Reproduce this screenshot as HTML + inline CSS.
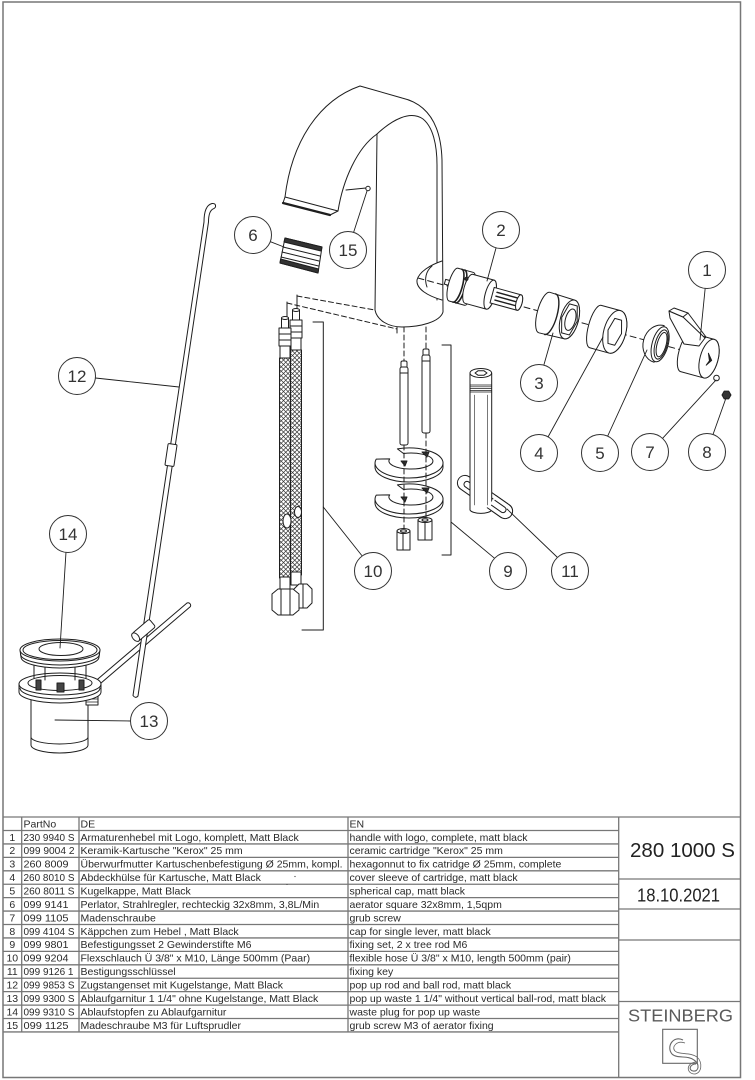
<!DOCTYPE html>
<html><head><meta charset="utf-8">
<style>
html,body{margin:0;padding:0;background:#fff;}
svg{display:block;}
text{font-family:"Liberation Sans",Arial,sans-serif;}
</style></head><body>
<svg width="755" height="1080" viewBox="0 0 755 1080" xmlns="http://www.w3.org/2000/svg">
<defs>
<pattern id="braid" width="4.5" height="4.5" patternUnits="userSpaceOnUse">
<rect width="4.5" height="4.5" fill="#fff"/>
<path d="M0,0 L4.5,4.5 M4.5,0 L0,4.5" stroke="#333" stroke-width="0.7"/>
</pattern>
</defs>
<rect width="755" height="1080" fill="#fff"/>

<!-- outer frame -->
<rect x="3" y="2" width="737.5" height="1075.5" fill="none" stroke="#777" stroke-width="1.5"/>

<!-- ================= DRAWING ================= -->
<g fill="none" stroke="#1e1e1e" stroke-width="1" stroke-linejoin="round" stroke-linecap="round">

<path d="M297,296 L397,314" stroke-dasharray="5,3"/>
<path d="M287,303 L397,329" stroke-dasharray="5,3"/>
<path d="M297,295 L297,311 M287,302 L287,317 M397,314 L397,333"/>
<path d="M404,327 L404,365 M426,327 L426,353" stroke-dasharray="5,3"/>

<!-- ===== Faucet ===== -->
<path d="M283,203 L285,197 C292,140 320,100 360,86 L402,98 C428,104 441,125 442,160 L443,312 C440,322 420,327 402,327 C388,327 377,320 375,310 L377,134 C357,148 343,180 338,211 L330,215 Z" fill="#fff"/>
<path d="M377,134 C392,120 410,110 423,119 C433,127 437,145 437,165 L437,300"/>
<path d="M285,197 L338,211"/>
<path d="M283,203 L330,215" stroke-width="2.2"/>
<path d="M442,261 C430,265 419,272 417,280 C416,289 428,296 442,300" fill="#fff"/>
<path d="M432,266 C426,271 424,279 427,287"/>
<path d="M346,190 L366,188"/>
<circle cx="368" cy="188.5" r="2.2" fill="#fff"/>

<!-- ===== Aerator 6 ===== -->
<polygon points="285,238 322,247 318,273 280,263" fill="#fff"/>
<path d="M285,238 L322,247 L321,251 L284,242 Z" fill="#333"/>
<path d="M283,247 L320,256 M282,252 L319,261 M281,257 L318.6,266"/>
<path d="M280,263 L318,273 L318.6,269 L280.6,259 Z" fill="#333"/>

<!-- ===== axis group ===== -->
<g transform="translate(418,278) rotate(15.3)">
  <path d="M0,0 L290,0" stroke-dasharray="6,4"/>
  <rect x="27" y="-6" width="10" height="5" fill="#fff"/>
  <path d="M36,-20 L52,-20 A5,17 0 0 1 52,14 L36,14 A5,17 0 0 1 36,-20 Z" fill="#fff"/>
  <path d="M40,-20 A5,17 0 0 1 40,14 M43,-20 A5,17 0 0 1 43,14" stroke-width="1.6"/>
  <path d="M52,-18 L74,-18 A5,15 0 0 1 74,12 L52,12 A5,15 0 0 1 52,-18 Z" fill="#fff"/>
  <ellipse cx="74" cy="-3" rx="5" ry="15" fill="#fff"/>
  <circle cx="47" cy="-12" r="1.5" fill="#333"/>
  <path d="M76,-11 L104,-11 A3,8 0 0 1 104,5 L76,5 Z" fill="#fff"/>
  <path d="M80,-7 L102,-7 M80,-3 L102,-3 M80,1 L102,1" stroke-width="1.4"/>
  <ellipse cx="104" cy="-3" rx="3" ry="8" fill="#fff"/>
  <path d="M131,-21 L157,-20 A9,20 0 0 1 157,20 L131,21 A7,21 0 0 1 131,-21 Z" fill="#fff"/>
  <path d="M137,-21 A7,21 0 0 1 137,21" stroke-width="1.4"/>
  <ellipse cx="157" cy="0" rx="9" ry="20" fill="#fff"/>
  <polygon points="165,0 161,15 153,15 149,0 153,-15 161,-15" fill="#fff"/>
  <ellipse cx="158" cy="0" rx="5" ry="11" fill="#fff"/>
  <path d="M184,-22 L204,-22 A11,22 0 0 1 204,22 L184,22 A7,22 0 0 1 184,-22 Z" fill="#fff"/>
  <ellipse cx="204" cy="0" rx="11" ry="22" fill="#fff"/>
  <polygon points="211,0 207.5,13 200.5,13 197,0 200.5,-13 207.5,-13" fill="#fff"/>
  <path d="M250,-19 A16,19 0 0 0 250,19 Z" fill="#fff"/>
  <ellipse cx="251" cy="0" rx="8" ry="18" fill="#fff"/>
  <ellipse cx="252" cy="0" rx="6" ry="15"/>
  <ellipse cx="252.5" cy="0" rx="4.5" ry="12.5"/>
  <path d="M278,-19 L302,-19 A9,20 0 0 1 302,21 L278,21 A7,20 0 0 1 278,-19 Z" fill="#fff"/>
  <ellipse cx="302" cy="1" rx="9" ry="20" fill="#fff"/>
  <path d="M300,-4 L305,2 L301,8 L303,3 Z" fill="#222"/>
</g>
<path d="M669,311 L683,317 L705,338 L699,346 L684,344 L670,318 Z" fill="#fff"/>
<path d="M669,311 L674,308 L688,313 L683,317 Z" fill="#fff"/>
<path d="M688,313 L706,337 L705,338"/>
<circle cx="716.5" cy="378" r="2.8" fill="#fff"/>
<polygon points="731,395 728.7,398.9 724.2,398.9 722,395 724.2,391.1 728.7,391.1" fill="#333"/>

<!-- ===== Hoses 10 ===== -->
<rect x="292.5" y="310" width="7" height="10" fill="#fff"/>
<ellipse cx="296" cy="310" rx="3.5" ry="1.5" fill="#fff"/>
<rect x="290" y="320" width="12" height="18" fill="#fff"/>
<path d="M290,326 L302,326 M290,332 L302,332"/>
<rect x="291" y="338" width="10" height="12" fill="#fff"/>
<rect x="290.5" y="350" width="11" height="225" fill="url(#braid)"/>
<rect x="291" y="572" width="10" height="13" fill="#fff"/>
<polygon points="294,589 299,584 307,584 312,589 312,603 307,608 299,608 294,603" fill="#fff"/>
<path d="M303,584 L303,608"/>
<rect x="281.5" y="318" width="7" height="10" fill="#fff"/>
<ellipse cx="285" cy="318" rx="3.5" ry="1.5" fill="#fff"/>
<rect x="279" y="328" width="12" height="18" fill="#fff"/>
<path d="M279,334 L291,334 M279,340 L291,340"/>
<rect x="280" y="346" width="10" height="12" fill="#fff"/>
<rect x="279.5" y="358" width="11" height="220" fill="url(#braid)"/>
<ellipse cx="287" cy="521" rx="4" ry="7" fill="#fff"/>
<ellipse cx="298" cy="512" rx="3.5" ry="5.5" fill="#fff"/>
<rect x="280" y="577" width="10" height="13" fill="#fff"/>
<polygon points="272,594 278,589 293,589 299,594 299,610 293,615 278,615 272,610" fill="#fff"/>
<path d="M281,589 L281,615 M290,589 L290,615"/>
<path d="M313,322 L323.3,322 L323.3,630 L302,630"/>

<!-- ===== Set 9 ===== -->
<rect x="401" y="361" width="6" height="8" rx="1.5" fill="#fff"/>
<rect x="400" y="367" width="8" height="78" rx="2" fill="#fff"/>
<path d="M400,373 L408,373"/>
<rect x="423" y="349" width="6" height="8" rx="1.5" fill="#fff"/>
<rect x="422" y="355" width="8" height="78" rx="2" fill="#fff"/>
<path d="M422,361 L430,361"/>
<path d="M375,463 L375,467 A34,15 0 0 0 443,467 L443,463" fill="#fff"/>
<path d="M397.4,448.9 A34,15 0 1 1 376.2,459.1 L389.7,458.9 A22,8 0 1 0 403.5,453.5 Z" fill="#fff"/>
<path d="M375,499 L375,503 A34,15 0 0 0 443,503 L443,499" fill="#fff"/>
<path d="M397.4,484.9 A34,15 0 1 1 376.2,495.1 L389.7,494.9 A22,8 0 1 0 403.5,489.5 Z" fill="#fff"/>
<path d="M401,461 L407,461 L405,466 Z M422,452 L429,452 L427,457 Z M401,497 L407,497 L405,502 Z M422,488 L429,488 L427,493 Z" fill="#333"/>
<path d="M404,445 L404,531 M426,433 L426,520" stroke-dasharray="5,3"/>
<rect x="397" y="531" width="13" height="19" fill="#fff"/>
<ellipse cx="403.5" cy="531" rx="6.5" ry="2.5" fill="#fff"/>
<ellipse cx="403.5" cy="531" rx="3" ry="1.2"/>
<path d="M403,533 L403,550"/>
<rect x="418" y="520" width="14" height="20" fill="#fff"/>
<ellipse cx="425" cy="520" rx="7" ry="2.5" fill="#fff"/>
<ellipse cx="425" cy="520" rx="3" ry="1.2"/>
<path d="M425,522 L425,540"/>
<path d="M442,345 L451,345 L451,555 L442,555"/>

<!-- ===== Key 11 ===== -->
<g transform="translate(485,497) rotate(35)">
  <rect x="-32" y="-7.5" width="64" height="15" rx="7.5" fill="#fff"/>
  <rect x="-25" y="-3" width="50" height="6" rx="3" fill="#fff"/>
</g>
<path d="M470,373 L470,510 A11,4 0 0 0 491.7,510 L491.7,373" fill="#fff"/>
<ellipse cx="480.8" cy="373" rx="10.8" ry="4.5" fill="#fff"/>
<polygon points="487,373 484,375.2 478,375.2 475,373 478,370.8 484,370.8"/>
<path d="M470,385 L491.7,385 M470,386.8 L491.7,386.8 M470,388.6 L491.7,388.6 M470,390.4 L491.7,390.4 M470,392 L491.7,392" stroke-width="0.7"/>
<path d="M474.5,395 L474.5,505 M487.3,395 L487.3,505" stroke-width="0.6"/>
<g transform="translate(485,497) rotate(35)">
  <path d="M8,-7.5 L24.5,-7.5 A7.5,7.5 0 0 1 24.5,7.5 L8,7.5" fill="#fff"/>
  <path d="M10,-3 L22,-3 A3,3 0 0 1 22,3 L10,3"/>
</g>

<!-- ===== Drain 13/14 and rod 12 ===== -->
<path d="M92,684 L187,603 A2.6,2.6 0 0 1 190.2,606.8 L95.2,688 Z" fill="#fff"/>
<path d="M204,222 C204,212 206,205 212,203.5 Q216,203 215.5,207 Q214.5,208.5 213.5,208.7 C210.5,210 208.5,214 208.5,222 L138,696 Q135.5,699 133,695.5 Z" fill="#fff"/>
<g transform="translate(171,455) rotate(8.5)"><rect x="-4.5" y="-11" width="9" height="22" rx="1" fill="#fff"/></g>
<g transform="translate(144,630) rotate(-40.5)">
  <rect x="-11" y="-5" width="22" height="10" rx="2" fill="#fff"/>
  <ellipse cx="-11" cy="0" rx="3" ry="5" fill="#fff"/>
</g>
<path d="M31,694 L31,745 A28.5,8 0 0 0 88,745 L88,694 Z" fill="#fff"/>
<path d="M31,737 A28.5,7 0 0 0 88,737"/>
<rect x="86" y="690" width="12" height="15" fill="#fff"/>
<path d="M86,693 L98,693 M86,696 L98,696 M86,699 L98,699 M86,702 L98,702" stroke-width="0.7"/>
<path d="M19,684 L19,692 A41,11 0 0 0 101,692 L101,684" fill="#fff"/>
<path d="M20,688 A40,11 0 0 0 100,688"/>
<ellipse cx="60" cy="684" rx="41" ry="11" fill="#fff"/>
<ellipse cx="60" cy="683" rx="32" ry="7.5" fill="#fff"/>
<path d="M36,680 L41,680 L41,690 L36,690 Z M57,683 L64,683 L64,692 L57,692 Z M79,680 L84,680 L84,690 L79,690 Z" fill="#444"/>
<path d="M34,662 L34,678 M45,664 L45,680 M75,664 L75,680 M86,662 L86,678"/>
<path d="M20,650 L21,657 A39,11 0 0 0 99,657 L100,650" fill="#fff"/>
<path d="M20.5,654 A39.5,11 0 0 0 99.5,654"/>
<ellipse cx="60" cy="650" rx="40" ry="11" fill="#fff"/>
<ellipse cx="60" cy="650" rx="37" ry="9.5"/>
<ellipse cx="61" cy="649" rx="22" ry="6.5" fill="#fff"/>

<!-- ===== Leaders ===== -->
<g stroke-width="0.9">
<path d="M705.2,288 L700,340"/>
<path d="M496,248 L487,281"/>
<path d="M544,364.5 L553,333"/>
<path d="M548,437 L603,337"/>
<path d="M607.7,436 L647,350"/>
<path d="M270.4,241.7 L284,247"/>
<path d="M662.5,438.4 L716,380"/>
<path d="M713,434.5 L726,398"/>
<path d="M494,557.8 L451,522"/>
<path d="M361.7,555.4 L323.3,507"/>
<path d="M557,557 L507,509"/>
<path d="M95.4,378 L179,387"/>
<path d="M130.5,721 L55,720"/>
<path d="M66,552 L60,648"/>
<path d="M353.6,232.4 L367,191"/>
</g>
</g>

<!-- balloons -->
<g fill="#fff" stroke="#333" stroke-width="1">
<circle cx="707" cy="270" r="18.5"/>
<circle cx="501" cy="230" r="18.5"/>
<circle cx="539" cy="383" r="18.5"/>
<circle cx="539" cy="453" r="18.5"/>
<circle cx="600" cy="453" r="18.5"/>
<circle cx="253" cy="235" r="18.5"/>
<circle cx="650" cy="452" r="18.5"/>
<circle cx="707" cy="452" r="18.5"/>
<circle cx="508" cy="571" r="18.5"/>
<circle cx="373" cy="571" r="18.5"/>
<circle cx="570" cy="571" r="18.5"/>
<circle cx="77" cy="376" r="18.5"/>
<circle cx="149" cy="721" r="18.5"/>
<circle cx="68" cy="534" r="18.5"/>
<circle cx="348" cy="250" r="18.5"/>
</g>
<g fill="#333" font-size="17" text-anchor="middle">
<text x="707" y="276">1</text>
<text x="501" y="236">2</text>
<text x="539" y="389">3</text>
<text x="539" y="459">4</text>
<text x="600" y="459">5</text>
<text x="253" y="241">6</text>
<text x="650" y="458">7</text>
<text x="707" y="458">8</text>
<text x="508" y="577">9</text>
<text x="373" y="577">10</text>
<text x="570" y="577">11</text>
<text x="77" y="382">12</text>
<text x="149" y="727">13</text>
<text x="68" y="540">14</text>
<text x="348" y="256">15</text>
</g>

<!-- ================= TABLE ================= -->
<g stroke="#777" stroke-width="1.3" fill="none">
<path d="M3,817 L740,817"/>
<path d="M3,830.5 L618.7,830.5 M3,843.93 L618.7,843.93 M3,857.36 L618.7,857.36 M3,870.79 L618.7,870.79 M3,884.22 L618.7,884.22 M3,897.65 L618.7,897.65 M3,911.08 L618.7,911.08 M3,924.51 L618.7,924.51 M3,937.94 L618.7,937.94 M3,951.37 L618.7,951.37 M3,964.8 L618.7,964.8 M3,978.23 L618.7,978.23 M3,991.66 L618.7,991.66 M3,1005.09 L618.7,1005.09 M3,1018.52 L618.7,1018.52 M3,1031.95 L618.7,1031.95"/>
<path d="M21.7,817 L21.7,1031.95 M79,817 L79,1031.95 M348,817 L348,1031.95 M618.7,817 L618.7,1077.5"/>
<path d="M618.7,879 L740,879 M618.7,909 L740,909 M618.7,940 L740,940 M618.7,1001.5 L740,1001.5"/>
</g>

<g fill="#2a2a2a" font-size="10.5">
<text x="23.5" y="827.5">PartNo</text>
<text x="80.5" y="827.5">DE</text>
<text x="349.5" y="827.5">EN</text>

<g text-anchor="middle">
<text x="12.3" y="840.8">1</text>
<text x="12.3" y="854.2">2</text>
<text x="12.3" y="867.7">3</text>
<text x="12.3" y="881.1">4</text>
<text x="12.3" y="894.5">5</text>
<text x="12.3" y="908">6</text>
<text x="12.3" y="921.4">7</text>
<text x="12.3" y="934.8">8</text>
<text x="12.3" y="948.2">9</text>
<text x="12.3" y="961.7">10</text>
<text x="12.3" y="975.1">11</text>
<text x="12.3" y="988.5">12</text>
<text x="12.3" y="1002">13</text>
<text x="12.3" y="1015.4">14</text>
<text x="12.3" y="1028.8">15</text>
</g>

<text x="23.5" y="840.8" textLength="51" lengthAdjust="spacingAndGlyphs">230 9940 S</text>
<text x="23.5" y="854.2" textLength="51" lengthAdjust="spacingAndGlyphs">099 9004 2</text>
<text x="23.5" y="867.7" textLength="45" lengthAdjust="spacingAndGlyphs">260 8009</text>
<text x="23.5" y="881.1" textLength="51" lengthAdjust="spacingAndGlyphs">260 8010 S</text>
<text x="23.5" y="894.5" textLength="51" lengthAdjust="spacingAndGlyphs">260 8011 S</text>
<text x="23.5" y="908" textLength="45" lengthAdjust="spacingAndGlyphs">099 9141</text>
<text x="23.5" y="921.4" textLength="45" lengthAdjust="spacingAndGlyphs">099 1105</text>
<text x="23.5" y="934.8" textLength="51" lengthAdjust="spacingAndGlyphs">099 4104 S</text>
<text x="23.5" y="948.2" textLength="45" lengthAdjust="spacingAndGlyphs">099 9801</text>
<text x="23.5" y="961.7" textLength="45" lengthAdjust="spacingAndGlyphs">099 9204</text>
<text x="23.5" y="975.1" textLength="50" lengthAdjust="spacingAndGlyphs">099 9126 1</text>
<text x="23.5" y="988.5" textLength="51" lengthAdjust="spacingAndGlyphs">099 9853 S</text>
<text x="23.5" y="1002" textLength="51" lengthAdjust="spacingAndGlyphs">099 9300 S</text>
<text x="23.5" y="1015.4" textLength="51" lengthAdjust="spacingAndGlyphs">099 9310 S</text>
<text x="23.5" y="1028.8" textLength="45" lengthAdjust="spacingAndGlyphs">099 1125</text>

<text x="80.5" y="840.8">Armaturenhebel mit Logo, komplett, Matt Black</text>
<text x="80.5" y="854.2">Keramik-Kartusche "Kerox" 25 mm</text>
<text x="80.5" y="867.7" textLength="262" lengthAdjust="spacingAndGlyphs">Überwurfmutter Kartuschenbefestigung Ø 25mm, kompl.</text>
<text x="80.5" y="881.1">Abdeckhülse für Kartusche, Matt Black</text>
<text x="80.5" y="894.5">Kugelkappe, Matt Black</text>
<text x="80.5" y="908">Perlator, Strahlregler, rechteckig 32x8mm, 3,8L/Min</text>
<text x="80.5" y="921.4">Madenschraube</text>
<text x="80.5" y="934.8">Käppchen zum Hebel , Matt Black</text>
<text x="80.5" y="948.2">Befestigungsset 2 Gewinderstifte M6</text>
<text x="80.5" y="961.7">Flexschlauch Ü 3/8" x M10, Länge 500mm (Paar)</text>
<text x="80.5" y="975.1">Bestigungsschlüssel</text>
<text x="80.5" y="988.5">Zugstangenset mit Kugelstange, Matt Black</text>
<text x="80.5" y="1002">Ablaufgarnitur 1 1/4" ohne Kugelstange, Matt Black</text>
<text x="80.5" y="1015.4">Ablaufstopfen zu Ablaufgarnitur</text>
<text x="80.5" y="1028.8">Madeschraube M3 für Luftsprudler</text>

<text x="349.5" y="840.8">handle with logo, complete, matt black</text>
<text x="349.5" y="854.2">ceramic cartridge "Kerox" 25 mm</text>
<text x="349.5" y="867.7">hexagonnut to fix catridge Ø 25mm, complete</text>
<text x="349.5" y="881.1">cover sleeve of cartridge, matt black</text>
<text x="349.5" y="894.5">spherical cap, matt black</text>
<text x="349.5" y="908">aerator square 32x8mm, 1,5qpm</text>
<text x="349.5" y="921.4">grub screw</text>
<text x="349.5" y="934.8">cap for single lever, matt black</text>
<text x="349.5" y="948.2">fixing set, 2 x tree rod M6</text>
<text x="349.5" y="961.7">flexible hose Ü 3/8" x M10, length 500mm (pair)</text>
<text x="349.5" y="975.1">fixing key</text>
<text x="349.5" y="988.5">pop up rod and ball rod, matt black</text>
<text x="349.5" y="1002">pop up waste 1 1/4" without vertical ball-rod, matt black</text>
<text x="349.5" y="1015.4">waste plug for pop up waste</text>
<text x="349.5" y="1028.8">grub screw M3 of aerator fixing</text>
</g>
<circle cx="295" cy="876.5" r="0.6" fill="#333"/>
<circle cx="287" cy="884.5" r="0.5" fill="#333"/>

<!-- right column -->
<text x="630" y="857" font-size="20" fill="#222" textLength="105" lengthAdjust="spacingAndGlyphs">280 1000 S</text>
<text x="637" y="901.5" font-size="18" fill="#222" textLength="83" lengthAdjust="spacingAndGlyphs">18.10.2021</text>
<text x="628" y="1021.5" font-size="17.5" fill="#5a5a5a" textLength="105" lengthAdjust="spacingAndGlyphs">STEINBERG</text>
<rect x="662.7" y="1029.3" width="34.6" height="34" fill="none" stroke="#666" stroke-width="1.1"/>
<path d="M683,1040 C673,1035 666,1047 672,1054 C677,1059 688,1055 694,1060 C700,1064 699,1072 693,1071 C688,1070 690,1064 696,1064" fill="none" stroke="#666" stroke-width="1.1"/>
<path d="M685,1043 C677,1040 671,1047 675,1051 C679,1055 690,1052 697,1057 C703,1062 702,1074 694,1074 C686,1073 686,1063 696,1062" fill="none" stroke="#666" stroke-width="0.8"/>
</svg>
</body></html>
